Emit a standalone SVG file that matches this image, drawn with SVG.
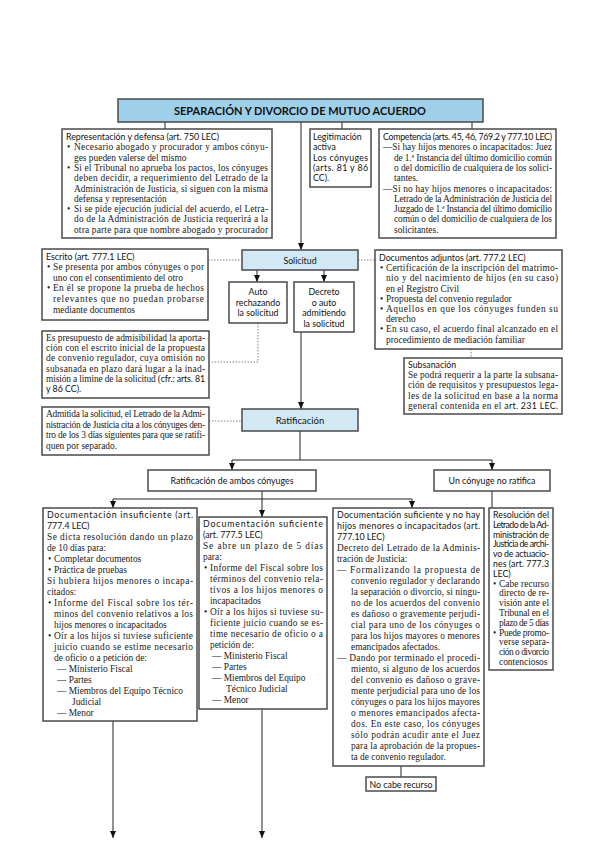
<svg xmlns="http://www.w3.org/2000/svg" width="599" height="848" viewBox="0 0 599 848">
<defs>
<marker id="ah" markerWidth="7" markerHeight="6" refX="7" refY="3" orient="auto" markerUnits="userSpaceOnUse"><path d="M0,0 L7,3 L0,6 z" fill="#111"/></marker>
<style>
.box{fill:#fff;stroke:#4a4a4a;stroke-width:1.5}
.blue{fill:#d2e8f5;stroke:#4a4a4a;stroke-width:1.5}
.title{fill:#9fd0ea;stroke:#4a4a4a;stroke-width:1.5}
.ln{stroke:#222;stroke-width:1;fill:none}
.dot{stroke:#777;stroke-width:0.9;stroke-dasharray:1.5 1.5;fill:none}
.b{font-family:"Liberation Serif","DejaVu Serif",serif;font-size:9.4px;fill:#222}
.h{font-family:Lato,"Liberation Sans",sans-serif;font-size:8.8px;fill:#111}
.c{text-anchor:middle}
.t{font-family:Lato,"Liberation Sans",sans-serif;font-size:11px;font-weight:bold;fill:#111;text-anchor:middle}
</style>
</defs>
<rect width="599" height="848" fill="#fff"/>

<g id="connectors">
<path class="ln" d="M165,122 V129 M342,122 V129 M472,122 V129"/>
<path class="ln" d="M301,122 V250" marker-end="url(#ah)"/>
<path class="dot" d="M208,260 H242 M358,260 H375"/>
<path class="ln" d="M257,270 V282" marker-end="url(#ah)"/>
<path class="ln" d="M324,270 V282" marker-end="url(#ah)"/>
<path class="dot" d="M258,323 V362 H209"/>
<path class="ln" d="M301,332 V409" marker-end="url(#ah)"/>
<path class="dot" d="M471,349 V358"/>
<path class="dot" d="M209,421 H242"/>
<path class="ln" d="M300,431 V460 M232,460 H492"/>
<path class="ln" d="M232,460 V470" marker-end="url(#ah)"/>
<path class="ln" d="M492,460 V470" marker-end="url(#ah)"/>
<path class="ln" d="M262,491 V499 M113,499 H412 M492,491 V508"/>
<path class="ln" d="M113,499 V508" marker-end="url(#ah)"/>
<path class="ln" d="M262,499 V517" marker-end="url(#ah)"/>
<path class="ln" d="M412,499 V508" marker-end="url(#ah)"/>
<path class="ln" d="M401,766 V777"/>
<path class="ln" d="M113,721 V838" marker-end="url(#ah)"/>
<path class="ln" d="M262,709 V838" marker-end="url(#ah)"/>
</g>

<g id="title">
<rect class="title" x="118" y="99" width="365" height="23"/>
<text class="t" x="300" y="115" textLength="252" lengthAdjust="spacing">SEPARACIÓN Y DIVORCIO DE MUTUO ACUERDO</text>
</g>

<g id="representacion">
<rect class="box" x="62" y="129" width="210" height="109"/>
<text class="h" x="66" y="140">Representación y defensa (art. 750 LEC)</text>
<text class="b" x="67" y="150.3">•</text>
<text class="b" x="74" y="150.3" textLength="194" lengthAdjust="spacing">Necesario abogado y procurador y ambos cónyu-</text>
<text class="b" x="74" y="160.6">ges pueden valerse del mismo</text>
<text class="b" x="67" y="170.9">•</text>
<text class="b" x="74" y="170.9" textLength="194" lengthAdjust="spacing">Si el Tribunal no aprueba los pactos, los cónyuges</text>
<text class="b" x="74" y="181.2" textLength="194" lengthAdjust="spacing">deben decidir, a requerimiento del Letrado de la</text>
<text class="b" x="74" y="191.5" textLength="194" lengthAdjust="spacing">Administración de Justicia, si siguen con la misma</text>
<text class="b" x="74" y="201.8">defensa y representación</text>
<text class="b" x="67" y="212.1">•</text>
<text class="b" x="74" y="212.1" textLength="194" lengthAdjust="spacing">Si se pide ejecución judicial del acuerdo, el Letra-</text>
<text class="b" x="74" y="222.4" textLength="194" lengthAdjust="spacing">do de la Administración de Justicia requerirá a la</text>
<text class="b" x="74" y="232.7" textLength="194" lengthAdjust="spacing">otra parte para que nombre abogado y procurador</text>
</g>

<g id="legitimacion">
<rect class="box" x="310" y="129" width="61" height="58"/>
<text class="h" x="313" y="140">Legitimación</text>
<text class="h" x="313" y="150.3">activa</text>
<text class="h" x="313" y="160.6" textLength="55" lengthAdjust="spacing">Los cónyuges</text>
<text class="h" x="313" y="170.9" textLength="55" lengthAdjust="spacing">(arts. 81 y 86</text>
<text class="h" x="313" y="181.2">CC).</text>
</g>

<g id="competencia">
<rect class="box" x="379" y="129" width="177" height="109"/>
<text class="h" x="383" y="140" textLength="169" lengthAdjust="spacing">Competencia (arts. 45, 46, 769.2 y 777.10 LEC)</text>
<text class="b" x="383" y="150.3" textLength="169" lengthAdjust="spacing">—Si hay hijos menores o incapacitados: Juez</text>
<text class="b" x="394" y="160.6" textLength="158" lengthAdjust="spacing">de 1.ª Instancia del último domicilio común</text>
<text class="b" x="394" y="170.9" textLength="158" lengthAdjust="spacing">o del domicilio de cualquiera de los solici-</text>
<text class="b" x="394" y="181.2">tantes.</text>
<text class="b" x="383" y="191.5" textLength="169" lengthAdjust="spacing">—Si no hay hijos menores o incapacitados:</text>
<text class="b" x="394" y="201.8" textLength="158" lengthAdjust="spacing">Letrado de la Administración de Justicia del</text>
<text class="b" x="394" y="212.1" textLength="158" lengthAdjust="spacing">Juzgado de 1.ª Instancia del último domicilio</text>
<text class="b" x="394" y="222.4" textLength="158" lengthAdjust="spacing">común o del domicilio de cualquiera de los</text>
<text class="b" x="394" y="232.7">solicitantes.</text>
</g>

<g id="escrito">
<rect class="box" x="42" y="249" width="166" height="71"/>
<text class="h" x="46" y="259.5">Escrito (art. 777.1 LEC)</text>
<text class="b" x="47" y="270.1">•</text>
<text class="b" x="53" y="270.1" textLength="151" lengthAdjust="spacing">Se presenta por ambos cónyuges o por</text>
<text class="b" x="53" y="280.7">uno con el consentimiento del otro</text>
<text class="b" x="47" y="291.3">•</text>
<text class="b" x="53" y="291.3" textLength="151" lengthAdjust="spacing">En él se propone la prueba de hechos</text>
<text class="b" x="53" y="301.9" textLength="151" lengthAdjust="spacing">relevantes que no puedan probarse</text>
<text class="b" x="53" y="312.5">mediante documentos</text>
</g>

<g id="solicitud">
<rect class="blue" x="242" y="250" width="116" height="20"/>
<text class="h c" x="300" y="263.5">Solicitud</text>
</g>

<g id="documentos">
<rect class="box" x="375" y="250" width="187" height="99"/>
<text class="h" x="379" y="261">Documentos adjuntos (art. 777.2 LEC)</text>
<text class="b" x="380" y="271.2">•</text>
<text class="b" x="386" y="271.2" textLength="172" lengthAdjust="spacing">Certificación de la inscripción del matrimo-</text>
<text class="b" x="386" y="281.4" textLength="172" lengthAdjust="spacing">nio y del nacimiento de hijos (en su caso)</text>
<text class="b" x="386" y="291.6">en el Registro Civil</text>
<text class="b" x="380" y="301.8">•</text>
<text class="b" x="386" y="301.8">Propuesta del convenio regulador</text>
<text class="b" x="380" y="312">•</text>
<text class="b" x="386" y="312" textLength="172" lengthAdjust="spacing">Aquellos en que los cónyuges funden su</text>
<text class="b" x="386" y="322.2">derecho</text>
<text class="b" x="380" y="332.4">•</text>
<text class="b" x="386" y="332.4" textLength="172" lengthAdjust="spacing">En su caso, el acuerdo final alcanzado en el</text>
<text class="b" x="386" y="342.6">procedimiento de mediación familiar</text>
</g>

<g id="auto">
<rect class="box" x="229" y="282" width="58" height="41"/>
<text class="h c" x="258" y="295">Auto</text>
<text class="h c" x="258" y="305.5">rechazando</text>
<text class="h c" x="258" y="316">la solicitud</text>
</g>

<g id="decreto">
<rect class="box" x="294" y="282" width="60" height="50"/>
<text class="h c" x="324" y="295">Decreto</text>
<text class="h c" x="324" y="305.5">o auto</text>
<text class="h c" x="324" y="316">admitiendo</text>
<text class="h c" x="324" y="326.5">la solicitud</text>
</g>

<g id="presupuesto">
<rect class="box" x="42" y="331" width="167" height="67"/>
<text class="b" x="46" y="341" textLength="159" lengthAdjust="spacing">Es presupuesto de admisibilidad la aporta-</text>
<text class="b" x="46" y="351.2" textLength="159" lengthAdjust="spacing">ción con el escrito inicial de la propuesta</text>
<text class="b" x="46" y="361.4" textLength="159" lengthAdjust="spacing">de convenio regulador, cuya omisión no</text>
<text class="b" x="46" y="371.6" textLength="159" lengthAdjust="spacing">subsanada en plazo dará lugar a la inad-</text>
<text class="b" x="46" y="381.8" textLength="159" lengthAdjust="spacing">misión a limine de la solicitud (<tspan class="h">cfr.: arts. 81</tspan></text>
<text class="h" x="46" y="392">y 86 CC).</text>
</g>

<g id="subsanacion">
<rect class="box" x="404" y="358" width="158" height="56"/>
<text class="h" x="408" y="368">Subsanación</text>
<text class="b" x="408" y="378.2" textLength="150" lengthAdjust="spacing">Se podrá requerir a la parte la subsana-</text>
<text class="b" x="408" y="388.4" textLength="150" lengthAdjust="spacing">ción de requisitos y presupuestos lega-</text>
<text class="b" x="408" y="398.6" textLength="150" lengthAdjust="spacing">les de la solicitud en base a la norma</text>
<text class="b" x="408" y="408.8" textLength="150" lengthAdjust="spacing">general contenida en el <tspan class="h">art. 231 LEC.</tspan></text>
</g>

<g id="admitida">
<rect class="box" x="42" y="407" width="167" height="48"/>
<text class="b" x="46" y="417" textLength="159" lengthAdjust="spacing">Admitida la solicitud, el Letrado de la Admi-</text>
<text class="b" x="46" y="427.5" textLength="159" lengthAdjust="spacing">nistración de Justicia cita a los cónyuges den-</text>
<text class="b" x="46" y="438" textLength="159" lengthAdjust="spacing">tro de los 3 días siguientes para que se ratifi-</text>
<text class="b" x="46" y="448.5">quen por separado.</text>
</g>

<g id="ratificacion">
<rect class="blue" x="242" y="409" width="116" height="22"/>
<text class="h c" x="300" y="423.5" style="font-size:9.5px">Ratificación</text>
</g>

<g id="ambos">
<rect class="box" x="148" y="470" width="168" height="21"/>
<text class="h c" x="232" y="484">Ratificación de ambos cónyuges</text>
</g>

<g id="noratifica">
<rect class="box" x="434" y="470" width="116" height="21"/>
<text class="h c" x="492" y="484">Un cónyuge no ratifica</text>
</g>

<g id="insuficiente">
<rect class="box" x="43" y="508" width="154" height="213"/>
<text class="h" x="47" y="518" textLength="146" lengthAdjust="spacing">Documentación insuficiente (art.</text>
<text class="h" x="47" y="529">777.4 LEC)</text>
<text class="b" x="47" y="540" textLength="146" lengthAdjust="spacing">Se dicta resolución dando un plazo</text>
<text class="b" x="47" y="551">de 10 días para:</text>
<text class="b" x="48" y="562">•</text><text class="b" x="54" y="562">Completar documentos</text>
<text class="b" x="48" y="573">•</text><text class="b" x="54" y="573">Práctica de pruebas</text>
<text class="b" x="47" y="584" textLength="146" lengthAdjust="spacing">Si hubiera hijos menores o incapa-</text>
<text class="b" x="47" y="595">citados:</text>
<text class="b" x="48" y="606">•</text><text class="b" x="54" y="606" textLength="139" lengthAdjust="spacing">Informe del Fiscal sobre los tér-</text>
<text class="b" x="54" y="617" textLength="139" lengthAdjust="spacing">minos del convenio relativos a los</text>
<text class="b" x="54" y="628">hijos menores o incapacitados</text>
<text class="b" x="48" y="639">•</text><text class="b" x="54" y="639" textLength="139" lengthAdjust="spacing">Oír a los hijos si tuviese suficiente</text>
<text class="b" x="54" y="650" textLength="139" lengthAdjust="spacing">juicio cuando se estime necesario</text>
<text class="b" x="54" y="661">de oficio o a petición de:</text>
<text class="b" x="57" y="672">— Ministerio Fiscal</text>
<text class="b" x="57" y="683">— Partes</text>
<text class="b" x="57" y="694">— Miembros del Equipo Técnico</text>
<text class="b" x="72" y="705">Judicial</text>
<text class="b" x="57" y="716">— Menor</text>
</g>

<g id="suficiente">
<rect class="box" x="199" y="517" width="128" height="192"/>
<text class="h" x="203" y="527" textLength="120" lengthAdjust="spacing">Documentación suficiente</text>
<text class="h" x="203" y="538">(art. 777.5 LEC)</text>
<text class="b" x="203" y="549" textLength="120" lengthAdjust="spacing">Se abre un plazo de 5 días</text>
<text class="b" x="203" y="560">para:</text>
<text class="b" x="204" y="571">•</text><text class="b" x="210" y="571" textLength="113" lengthAdjust="spacing">Informe del Fiscal sobre los</text>
<text class="b" x="210" y="582" textLength="113" lengthAdjust="spacing">términos del convenio rela-</text>
<text class="b" x="210" y="593" textLength="113" lengthAdjust="spacing">tivos a los hijos menores o</text>
<text class="b" x="210" y="604">incapacitados</text>
<text class="b" x="204" y="615">•</text><text class="b" x="210" y="615" textLength="113" lengthAdjust="spacing">Oír a los hijos si tuviese su-</text>
<text class="b" x="210" y="626" textLength="113" lengthAdjust="spacing">ficiente juicio cuando se es-</text>
<text class="b" x="210" y="637" textLength="113" lengthAdjust="spacing">time necesario de oficio o a</text>
<text class="b" x="210" y="648">petición de:</text>
<text class="b" x="212" y="659">— Ministerio Fiscal</text>
<text class="b" x="212" y="670">— Partes</text>
<text class="b" x="212" y="681">— Miembros del Equipo</text>
<text class="b" x="226" y="692">Técnico Judicial</text>
<text class="b" x="212" y="703">— Menor</text>
</g>

<g id="nohay">
<rect class="box" x="333" y="508" width="151" height="258"/>
<text class="h" x="337" y="518" textLength="143" lengthAdjust="spacing">Documentación suficiente y no hay</text>
<text class="h" x="337" y="529" textLength="143" lengthAdjust="spacing">hijos menores o incapacitados (art.</text>
<text class="h" x="337" y="540">777.10 LEC)</text>
<text class="b" x="337" y="551" textLength="143" lengthAdjust="spacing">Decreto del Letrado de la Adminis-</text>
<text class="b" x="337" y="562">tración de Justicia:</text>
<text class="b" x="337" y="573" textLength="143" lengthAdjust="spacing">— Formalizando la propuesta de</text>
<text class="b" x="351" y="584" textLength="129" lengthAdjust="spacing">convenio regulador y declarando</text>
<text class="b" x="351" y="595" textLength="129" lengthAdjust="spacing">la separación o divorcio, si ningu-</text>
<text class="b" x="351" y="606" textLength="129" lengthAdjust="spacing">no de los acuerdos del convenio</text>
<text class="b" x="351" y="617" textLength="129" lengthAdjust="spacing">es dañoso o gravemente perjudi-</text>
<text class="b" x="351" y="628" textLength="129" lengthAdjust="spacing">cial para uno de los cónyuges o</text>
<text class="b" x="351" y="639" textLength="129" lengthAdjust="spacing">para los hijos mayores o menores</text>
<text class="b" x="351" y="650">emancipados afectados.</text>
<text class="b" x="337" y="661" textLength="143" lengthAdjust="spacing">— Dando por terminado el procedi-</text>
<text class="b" x="351" y="672" textLength="129" lengthAdjust="spacing">miento, si alguno de los acuerdos</text>
<text class="b" x="351" y="683" textLength="129" lengthAdjust="spacing">del convenio es dañoso o grave-</text>
<text class="b" x="351" y="694" textLength="129" lengthAdjust="spacing">mente perjudicial para uno de los</text>
<text class="b" x="351" y="705" textLength="129" lengthAdjust="spacing">cónyuges o para los hijos mayores</text>
<text class="b" x="351" y="716" textLength="129" lengthAdjust="spacing">o menores emancipados afecta-</text>
<text class="b" x="351" y="727" textLength="129" lengthAdjust="spacing">dos. En este caso, los cónyuges</text>
<text class="b" x="351" y="738" textLength="129" lengthAdjust="spacing">sólo podrán acudir ante el Juez</text>
<text class="b" x="351" y="749" textLength="129" lengthAdjust="spacing">para la aprobación de la propues-</text>
<text class="b" x="351" y="760">ta de convenio regulador.</text>
</g>

<g id="resolucion">
<rect class="box" x="489" y="508" width="64" height="162"/>
<text class="h" x="493" y="518" textLength="56" lengthAdjust="spacing">Resolución del</text>
<text class="h" x="493" y="527.8" textLength="56" lengthAdjust="spacing">Letrado de la Ad-</text>
<text class="h" x="493" y="537.6" textLength="56" lengthAdjust="spacing">ministración de</text>
<text class="h" x="493" y="547.4" textLength="56" lengthAdjust="spacing">Justicia de archi-</text>
<text class="h" x="493" y="557.2" textLength="56" lengthAdjust="spacing">vo de actuacio-</text>
<text class="h" x="493" y="567" textLength="56" lengthAdjust="spacing">nes (art. 777.3</text>
<text class="h" x="493" y="576.8">LEC)</text>
<text class="b" x="493" y="586.6">•</text><text class="b" x="499" y="586.6" textLength="50" lengthAdjust="spacing">Cabe recurso</text>
<text class="b" x="499" y="596.4" textLength="50" lengthAdjust="spacing">directo de re-</text>
<text class="b" x="499" y="606.2" textLength="50" lengthAdjust="spacing">visión ante el</text>
<text class="b" x="499" y="616" textLength="50" lengthAdjust="spacing">Tribunal en el</text>
<text class="b" x="499" y="625.8" textLength="50" lengthAdjust="spacing">plazo de 5 días</text>
<text class="b" x="493" y="635.6">•</text><text class="b" x="499" y="635.6" textLength="50" lengthAdjust="spacing">Puede promo-</text>
<text class="b" x="499" y="645.4" textLength="50" lengthAdjust="spacing">verse separa-</text>
<text class="b" x="499" y="655.2" textLength="50" lengthAdjust="spacing">ción o divorcio</text>
<text class="b" x="499" y="665">contenciosos</text>
</g>

<g id="nocabe">
<rect class="box" x="366" y="777" width="70" height="14"/>
<text class="h c" x="401" y="787.5">No cabe recurso</text>
</g>
</svg>
